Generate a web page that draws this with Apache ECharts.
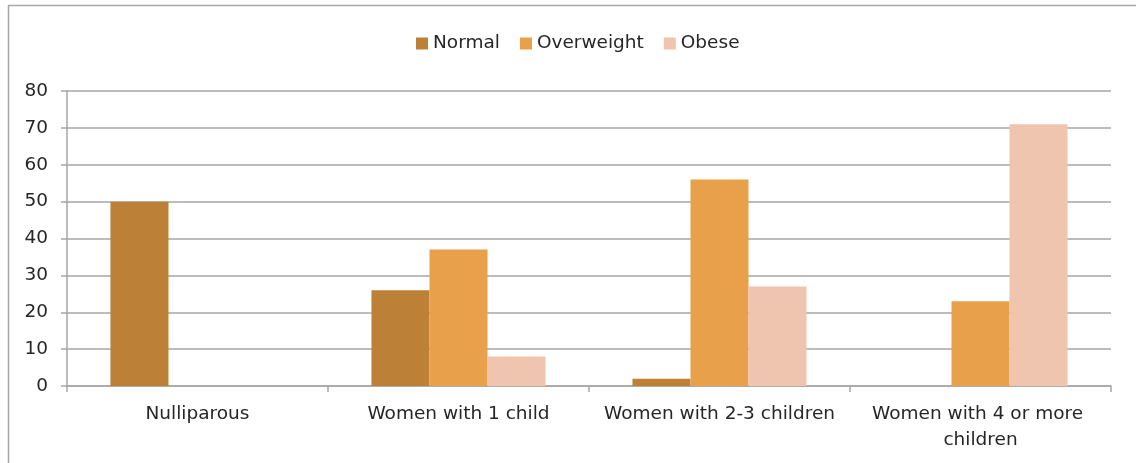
<!DOCTYPE html>
<html>
<head>
<meta charset="utf-8">
<script src="https://cdn.jsdelivr.net/npm/echarts@6/dist/echarts.min.js"></script>
<style>
  html, body { margin: 0; padding: 0; background: #fff; }
  #chart { width: 1136px; height: 463px; }
</style>
</head>
<body>
<div id="chart"></div>
<script>
var categories = ['Nulliparous', 'Women with 1 child', 'Women with 2-3 children', 'Women with 4 or more children']
var normal = [50, 26, 2, 0]
var overweight = [0, 37, 56, 23]
var obese = [0, 8, 27, 71]
var yTicks = [0, 10, 20, 30, 40, 50, 60, 70, 80]

var font = 'DejaVu Sans'
var fs = 18.5
var chart = echarts.init(document.getElementById('chart'))

chart.setOption({
  animation: false,
  textStyle: { fontFamily: font },
  graphic: [{
    type: 'rect',
    shape: { x: 8.5, y: 5.5, width: 1140, height: 480 },
    style: { fill: null, stroke: '#a6a6a6', lineWidth: 1.5 },
    silent: true
  }],
  legend: {
    top: 29,
    left: 411,
    itemWidth: 12,
    itemHeight: 12,
    itemGap: 20,
    icon: 'rect',
    textStyle: { fontFamily: font, fontSize: fs, color: '#262626', padding: [0, 0, 0, 0] },
    data: ['Normal', 'Overweight', 'Obese']
  },
  grid: { left: 67, right: 25, top: 91, bottom: 77 },
  xAxis: {
    type: 'category',
    data: categories,
    axisLine: { lineStyle: { color: '#a6a6a6', width: 1.5 } },
    axisTick: { show: true, length: 6, lineStyle: { color: '#a6a6a6', width: 1.5 } },
    axisLabel: {
      interval: 0,
      margin: 15,
      fontSize: fs,
      color: '#262626',
      fontFamily: font,
      width: 250,
      overflow: 'break',
      lineHeight: 26
    }
  },
  yAxis: {
    type: 'value',
    min: yTicks[0],
    max: yTicks[yTicks.length - 1],
    interval: 10,
    axisLine: { show: true, lineStyle: { color: '#a6a6a6', width: 1.5 } },
    axisTick: { show: true, length: 6, lineStyle: { color: '#a6a6a6', width: 1.5 } },
    axisLabel: { margin: 19, fontSize: fs, color: '#262626', fontFamily: font },
    splitLine: { lineStyle: { color: '#a6a6a6', width: 1.5 } }
  },
  series: [
    { name: 'Normal', type: 'bar', data: normal, barGap: '0%', barCategoryGap: '33.3%', itemStyle: { color: '#bc8037' } },
    { name: 'Overweight', type: 'bar', data: overweight, itemStyle: { color: '#e8a04b' } },
    { name: 'Obese', type: 'bar', data: obese, itemStyle: { color: '#efc5af' } }
  ]
})
</script>
</body>
</html>
